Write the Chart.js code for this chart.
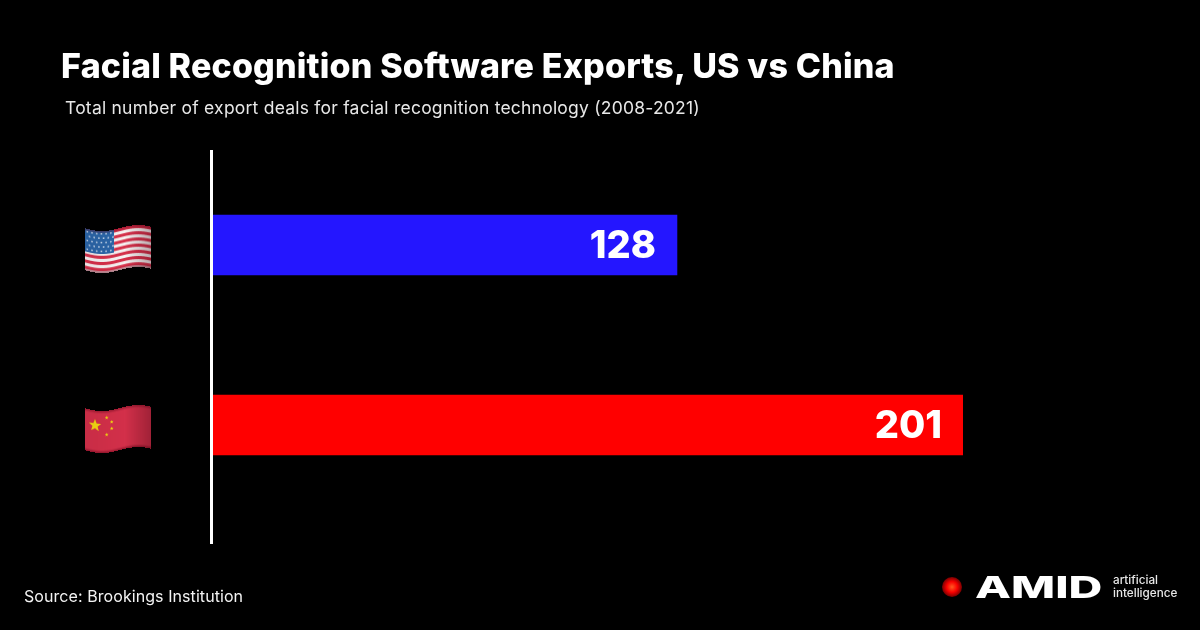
<!DOCTYPE html>
<html>
<head>
<meta charset="utf-8">
<title>Facial Recognition Software Exports</title>
<script src="https://cdn.jsdelivr.net/npm/chart.js@4/dist/chart.umd.min.js"></script>
<style>
    html, body { margin: 0; padding: 0; background: #000; }
    body { width: 1200px; height: 630px; overflow: hidden; position: relative; font-family: Inter, sans-serif; color: #fff; }
    canvas { position: absolute; left: 0; top: 0; }
    .txt { position: absolute; white-space: nowrap; line-height: 1; }
    #title { left: 61px; top: 49px; font-size: 34px; font-weight: 800; letter-spacing: 0.17px; }
    #subtitle { left: 65px; top: 99px; font-size: 17.5px; letter-spacing: 0.22px; color: #e8e8e8; }
    #source { left: 24px; top: 588px; font-size: 16px; letter-spacing: 0.07px; color: #f4f4f4; }
    #dot { position: absolute; left: 942px; top: 577px; width: 20px; height: 20px; border-radius: 50%;
           background: radial-gradient(circle, #ff5a20 0%, #f80000 38%, #a00000 60%, #000 100%); }
    #brand { left: 975px; top: 572px; font-size: 30px; font-weight: 800; transform-origin: left top; transform: scaleX(1.56); }
    #tag { left: 1113px; top: 574px; font-size: 11.7px; line-height: 13px; font-weight: 500; color: #e8e8e8; white-space: pre; }
</style>
</head>
<body>
<canvas id="chart" width="1200" height="630"></canvas>
<div class="txt" id="title">Facial Recognition Software Exports, US vs China</div>
<div class="txt" id="subtitle">Total number of export deals for facial recognition technology (2008-2021)</div>
<div class="txt" id="source">Source: Brookings Institution</div>
<div id="dot"></div>
<div class="txt" id="brand">AMID</div>
<div class="txt" id="tag">artificial
intelligence</div>

<script>
const countries = ["US", "China"];
const deals = [128, 201];
const barColors = ["#2416ff", "#ff0000"];

// the bars in the picture do not start at zero, this is where the axis line sits
const axisStart = 9.6;

function flatFlag(country) {
    const c = document.createElement("canvas");
    c.width = 66;
    c.height = 42;
    const g = c.getContext("2d");
    if (country === "US") {
        g.fillStyle = "#f6f2f2";
        g.fillRect(0, 0, 66, 42);
        g.fillStyle = "#d6304a";
        for (let i = 0; i < 7; i++) g.fillRect(0, i * 6.2, 66, 3.1);
        g.fillStyle = "#2a66a8";
        g.fillRect(0, 0, 29, 23);
        g.fillStyle = "#b9cfe8";
        for (let r = 0; r < 5; r++) {
            for (let k = 0; k < 6; k++) {
                g.fillRect(1.5 + k * 4.7 + (r % 2) * 2.2, 2 + r * 4.4, 1.6, 1.6);
            }
        }
    } else {
        g.fillStyle = "#d3304a";
        g.fillRect(0, 0, 66, 42);
        g.fillStyle = "#f2da12";
        star(g, 10, 15, 6.5);
        star(g, 21.7, 7, 2);
        star(g, 26.7, 12, 2);
        star(g, 26.7, 18.5, 2);
        star(g, 21.7, 24, 2);
    }
    // darker rim along the top and bottom edge
    const rim = g.createLinearGradient(0, 0, 0, 42);
    rim.addColorStop(0, "rgba(90,0,20,0.45)");
    rim.addColorStop(0.07, "rgba(90,0,20,0)");
    rim.addColorStop(0.93, "rgba(90,0,20,0)");
    rim.addColorStop(1, "rgba(90,0,20,0.55)");
    g.fillStyle = rim;
    g.fillRect(0, 0, 66, 42);
    return c;
}

function star(g, x, y, r) {
    g.beginPath();
    for (let i = 0; i < 10; i++) {
        const rad = i % 2 ? r * 0.42 : r;
        const a = -Math.PI / 2 + i * Math.PI / 5;
        g.lineTo(x + rad * Math.cos(a), y + rad * Math.sin(a));
    }
    g.closePath();
    g.fill();
}

// emoji fonts are not installed, so the flags are painted as waved strips
function wavedFlag(country) {
    const flag = flatFlag(country);
    const c = document.createElement("canvas");
    c.width = 70;
    c.height = 54;
    const g = c.getContext("2d");
    for (let col = 0; col < 66; col++) {
        const t = col / 66;
        const wave = 3 * Math.cos(2 * Math.PI * (t - 0.25) / 1.1);
        g.drawImage(flag, col, 0, 1, 42, col + 2, 6 + wave, 1, 42);
        // light falls on the middle, the right end turns away
        const shade = t > 0.6 ? 0.3 * (t - 0.6) / 0.4 : 0.1 * (0.6 - t);
        g.fillStyle = "rgba(40,0,10," + shade + ")";
        g.fillRect(col + 2, 6 + wave, 1, 42);
    }
    return c;
}

const flagPlugin = {
    id: "flags",
    afterDraw(chart) {
        const ctx = chart.ctx;
        const y = chart.scales.y;
        countries.forEach((name, i) => {
            const cy = y.getPixelForValue(i);
            ctx.save();
            ctx.filter = "blur(0.5px)";
            ctx.drawImage(wavedFlag(name), 83, cy - 23);
            ctx.restore();
        });
    }
};

const axisLinePlugin = {
    id: "axisLine",
    afterDraw(chart) {
        const ctx = chart.ctx;
        ctx.fillStyle = "#fff";
        ctx.fillRect(chart.chartArea.left - 3, chart.chartArea.top - 5, 3, 394);
    }
};

const valueLabelPlugin = {
    id: "valueLabels",
    afterDatasetsDraw(chart) {
        const ctx = chart.ctx;
        const bars = chart.getDatasetMeta(0).data;
        ctx.save();
        ctx.font = "800 38px Inter, sans-serif";
        ctx.fillStyle = "#fff";
        ctx.textAlign = "right";
        ctx.textBaseline = "middle";
        bars.forEach((bar, i) => {
            ctx.fillText(String(deals[i]), bar.x - 21, bar.y + 2);
        });
        ctx.restore();
    }
};

new Chart(document.getElementById("chart").getContext("2d"), {
    type: "bar",
    data: {
        labels: countries,
        datasets: [{
            data: deals,
            backgroundColor: barColors,
            barThickness: 60,
            borderWidth: 0,
            base: axisStart
        }]
    },
    options: {
        indexAxis: "y",
        responsive: false,
        animation: false,
        layout: { padding: { left: 213, right: 237, top: 155, bottom: 115 } },
        plugins: { legend: { display: false }, tooltip: { enabled: false } },
        scales: {
            x: { display: false, min: axisStart, max: 201 },
            y: { display: false }
        }
    },
    plugins: [flagPlugin, axisLinePlugin, valueLabelPlugin]
});
</script>
</body>
</html>
